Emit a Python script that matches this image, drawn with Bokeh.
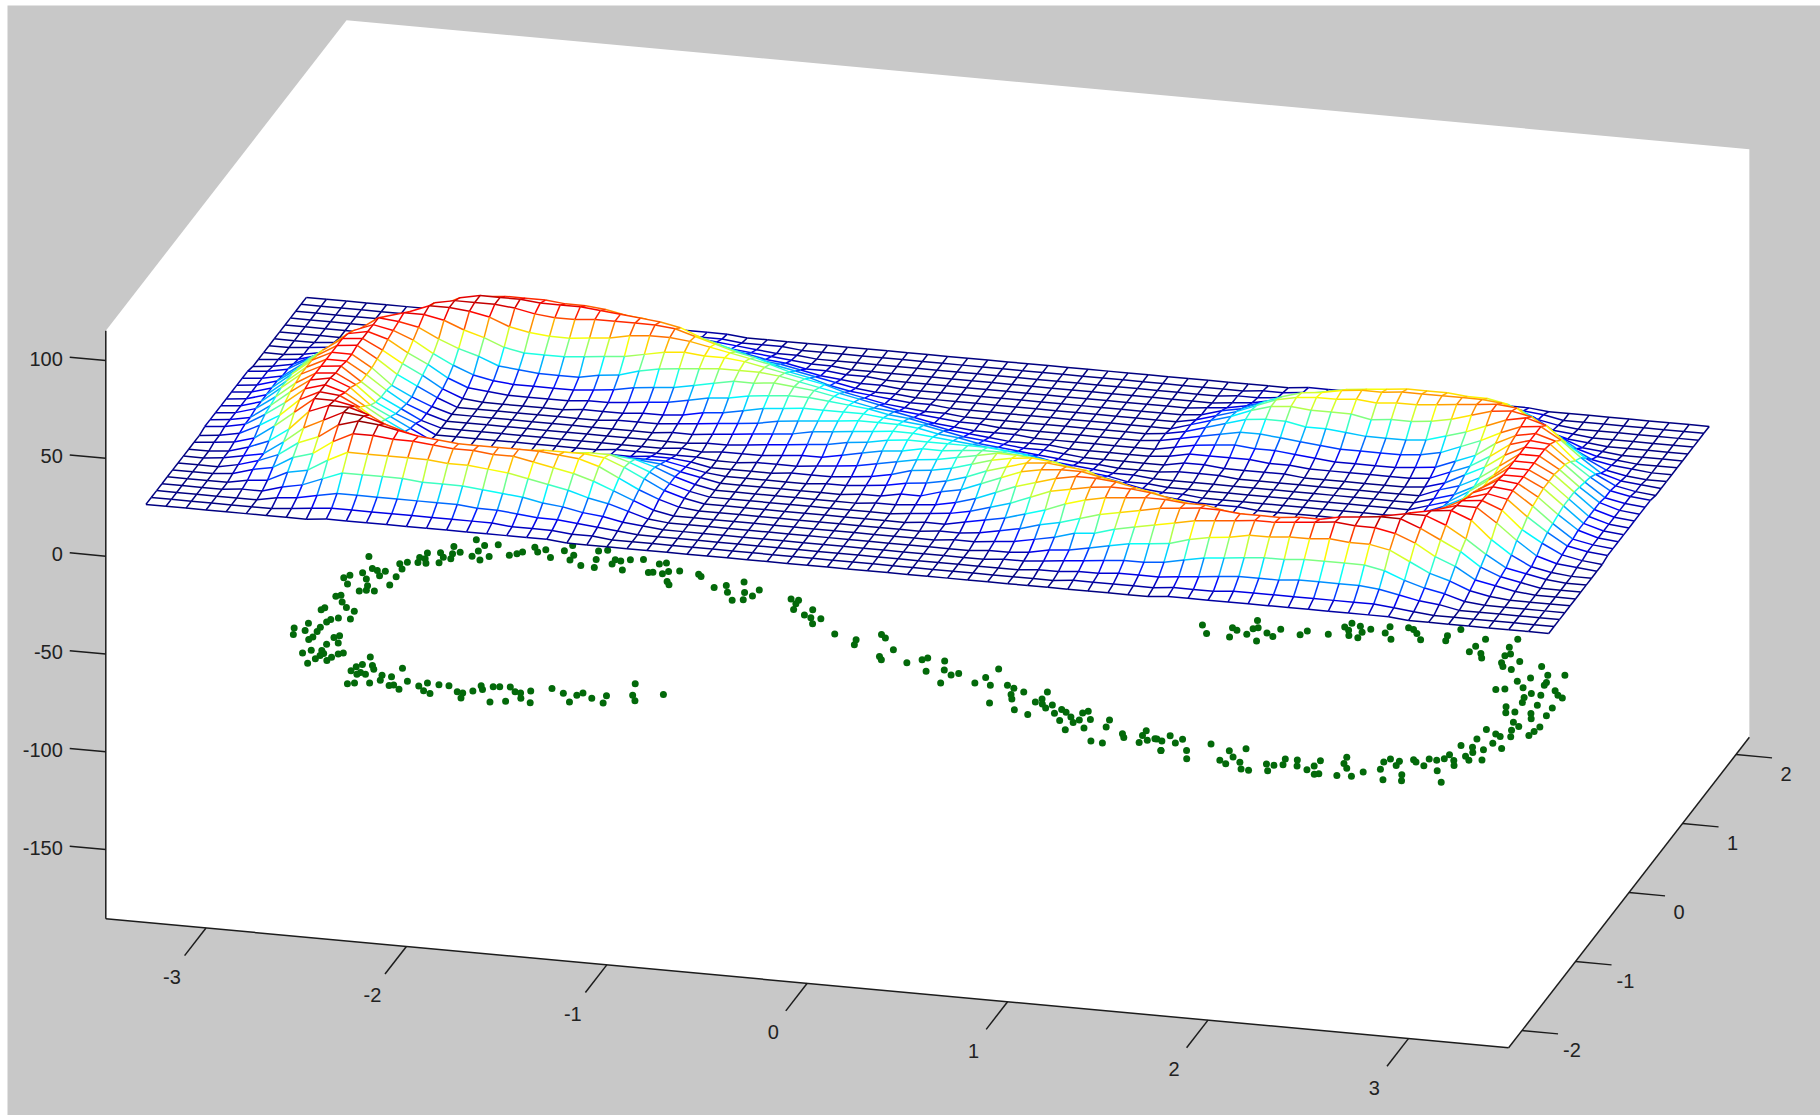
import numpy as np
from bokeh.plotting import figure
from bokeh.models import Range1d
from bokeh.core.properties import value
from bokeh.embed import file_html
from bokeh.resources import INLINE

X_LIMITS = (-3.5, 3.5)
Y_LIMITS = (-2.25, 2.25)
Z_LIMITS = (-185.4, 115.3)
X_TICKS = [-3, -2, -1, 0, 1, 2, 3]
Y_TICKS = [-2, -1, 0, 1, 2]
Z_TICKS = [-150, -100, -50, 0, 50, 100]

MESH_X = [round(-3.5 + 0.1 * i, 1) for i in range(71)]
MESH_Y = [round(-1.5 + 0.1 * j, 1) for j in range(31)]
CLOUD_Z = -100
COLOR_TOP = 30

# One entry per x of the mesh: height at y=0, heights going to y=-0.1,-0.2,... and
# heights going to y=+0.1,+0.2,... ; rows not listed are read as zero height.
Z_COLUMNS = [
 (1,[1,1,1,1],[1,1,1,1]),
 (2,[2,2,2,2,1,1],[2,2,2,2,1,1]),
 (5,[5,5,4,4,3,2,1,1],[5,5,4,4,3,2,1,1]),
 (13,[13,12,11,10,8,5,4,3,2,1],[13,12,11,10,8,5,3,2,1]),
 (21,[21,20,19,17,14,12,8,5,5,4,2,1],[21,20,19,17,14,12,8,4,2,1]),
 (26,[26,26,26,25,23,20,15,12,9,6,3,1],[26,26,26,25,23,20,15,9,5,2,1]),
 (26,[27,27,28,28,28,28,25,20,16,12,8,4,2],[26,27,27,27,27,27,24,18,12,6,2,1]),
 (20,[20,22,24,25,27,28,29,25,20,15,10,6,3,1],[20,21,22,24,25,26,27,24,17,10,5,2,1]),
 (13,[13,14,16,19,22,26,29,30,27,22,16,10,5,2],[12,14,16,18,21,24,27,28,26,21,15,8,4,2,1]),
 (7,[8,9,11,13,15,20,26,29,30,27,21,14,7,3,1],[7,9,11,13,15,19,25,28,28,26,20,14,7,3,1]),
 (3,[3,5,6,8,10,15,21,26,29,27,21,14,7,3,1],[3,4,5,7,10,15,21,27,28,28,24,16,8,3,1]),
 (0,[0,0,1,3,6,11,17,23,27,26,21,14,7,3,1],[0,0,1,3,6,12,18,25,28,28,25,17,8,3,1]),
 (0,[0,0,0,1,3,7,13,20,25,26,21,14,7,3,1],[0,0,0,2,4,8,14,21,27,28,25,18,8,3,1]),
 (0,[0,0,0,1,2,6,11,18,24,25,21,13,7,3,1],[0,0,0,1,3,7,12,19,25,27,25,18,8,3,1]),
 (0,[0,0,0,1,2,5,11,17,23,24,20,13,7,3,1],[0,0,0,1,3,6,12,18,24,27,24,17,8,3,1]),
 (0,[0,0,0,1,2,5,11,17,23,24,20,13,7,3,1],[0,0,0,1,3,6,12,18,24,27,24,17,8,3,1]),
 (0,[0,0,0,1,3,6,11,18,23,23,19,12,6,3,1],[0,0,0,1,3,6,13,19,25,26,23,15,8,3,1]),
 (0,[0,0,0,1,4,7,13,19,23,23,18,11,6,3,1],[0,0,1,2,4,8,14,20,25,25,21,14,8,3,1]),
 (0,[0,0,1,2,4,9,14,20,23,21,16,10,5,2,1],[0,0,1,2,5,9,15,22,25,24,20,13,7,3,1]),
 (0,[0,0,1,3,6,10,16,20,22,19,14,8,4,2,1],[0,1,1,3,7,12,17,23,25,23,17,11,6,3,1]),
 (0,[0,1,2,4,7,12,17,20,21,17,12,7,4,2,1],[0,1,2,4,8,14,19,23,24,21,15,10,5,2,1]),
 (0,[0,1,2,5,8,13,17,19,18,14,9,5,3,1],[0,1,2,5,9,15,20,22,21,17,12,7,4,2,1]),
 (0,[0,1,3,5,8,12,14,15,13,10,7,4,2,1],[1,2,3,7,11,16,19,20,18,14,9,5,3,1]),
 (0,[1,1,3,5,7,9,10,10,8,6,4,2,1],[1,3,5,9,13,17,19,18,15,11,7,4,2,1]),
 (1,[0,1,2,3,4,5,5,5,4,2,1,1],[2,4,6,10,15,17,18,16,13,8,5,3,1,1]),
 (1,[1,0,0,1,2,2,2,2,1],[3,5,8,12,15,17,16,14,10,7,4,2,1]),
 (2,[1],[4,6,10,13,16,16,14,11,8,5,2,1]),
 (3,[1,1],[5,8,11,14,15,14,12,9,6,3,2,1]),
 (4,[2,1],[6,9,12,14,14,12,10,6,4,2,1]),
 (5,[3,1,1],[8,10,12,13,12,10,7,4,2,1,1]),
 (6,[3,2,1],[9,11,12,12,10,8,5,3,1,1]),
 (8,[5,3,1,1],[10,12,12,11,8,6,3,2,1]),
 (9,[7,4,2,1],[11,12,11,9,7,4,2,1]),
 (11,[9,6,3,2,1],[12,12,10,8,5,3,1,1]),
 (12,[10,8,5,3,1,1],[12,11,9,6,3,2,1]),
 (12,[12,10,8,5,3,1],[11,9,7,4,2,1]),
 (12,[12,11,9,6,3,2,1],[10,8,5,3,1,1]),
 (12,[13,13,11,8,6,3,2,1],[9,6,4,2,1]),
 (12,[14,15,14,11,8,5,3,1,1],[8,5,3,1,1]),
 (11,[14,17,17,15,12,8,5,3,1,1],[7,4,2,1]),
 (10,[13,17,19,18,16,12,8,5,2,1],[6,3,2,1]),
 (8,[12,16,20,21,20,16,11,7,4,2,1],[4,2,1]),
 (6,[10,15,19,22,22,19,15,10,6,3,1,1],[3,1]),
 (4,[8,12,17,21,23,22,19,13,9,5,2,1],[2,1]),
 (3,[6,10,14,20,23,24,21,17,11,7,4,2,1],[1]),
 (1,[4,6,11,16,21,24,23,20,14,10,5,3,1],[1,0,0,0,0,1,1]),
 (1,[2,5,9,14,19,23,24,22,17,11,7,4,2,1],[0,0,0,1,2,3,3,3,2,1,1]),
 (0,[1,3,6,11,16,21,24,23,19,14,9,5,2,1],[0,1,2,3,4,5,6,6,5,4,2,1,1]),
 (0,[1,2,4,8,13,19,23,24,21,16,11,6,3,1],[0,1,2,3,5,7,9,9,8,6,4,2,1,1]),
 (0,[0,1,3,6,10,16,21,24,23,18,12,6,3,1],[0,1,1,3,6,9,12,13,12,10,7,4,2,1]),
 (0,[0,1,2,4,8,14,19,23,24,20,13,7,3,1],[0,0,1,3,5,9,13,16,16,14,10,6,4,2,1]),
 (0,[0,1,1,3,6,12,18,23,25,22,16,9,4,2,1],[0,0,1,2,5,8,13,17,18,17,13,8,5,2,1]),
 (0,[0,0,1,2,5,10,15,21,25,23,18,11,5,2,1],[0,0,1,2,4,7,11,16,19,18,15,10,6,3,1]),
 (0,[0,0,1,2,4,8,14,20,24,24,19,12,6,2,1],[0,0,0,1,3,6,11,16,19,20,17,12,7,3,1]),
 (0,[0,0,0,1,3,7,12,19,24,25,21,13,7,3,1],[0,0,0,1,2,5,10,16,20,21,18,13,8,4,1]),
 (0,[0,0,0,1,2,6,11,18,24,25,21,14,7,3,1],[0,0,0,1,2,5,9,14,19,21,19,14,8,4,1]),
 (0,[0,0,0,1,2,6,12,18,25,26,22,14,7,3,1],[0,0,0,1,2,5,9,15,20,22,20,15,8,4,1]),
 (0,[0,0,0,1,3,6,12,19,25,27,22,15,8,3,1],[0,0,0,1,2,5,9,15,20,22,20,15,8,4,1]),
 (0,[0,0,0,1,3,8,14,21,27,28,23,15,8,3,1],[0,0,0,1,3,6,10,16,21,22,20,15,8,4,1]),
 (0,[0,0,1,3,6,11,17,24,28,27,22,15,8,3,1],[0,0,1,2,4,8,13,18,22,22,19,14,8,4,1]),
 (3,[3,5,6,8,10,15,21,26,29,27,22,15,8,3,1],[3,4,4,6,8,12,16,21,23,22,19,13,8,4,1]),
 (6,[7,8,10,12,15,20,25,28,29,25,20,13,7,3,1],[6,7,9,10,12,16,20,24,24,21,17,12,7,3,1]),
 (12,[12,13,15,18,21,24,27,28,25,21,15,9,5,2,1],[11,12,14,16,19,21,24,25,23,18,12,8,3,2]),
 (19,[19,21,23,24,26,27,28,24,20,15,10,6,3,1],[18,19,21,23,24,25,26,23,16,10,5,2,1]),
 (26,[26,27,27,27,27,27,24,18,15,11,7,4,2],[26,26,26,26,26,26,23,17,11,6,2,1]),
 (26,[26,26,26,25,23,20,15,11,8,5,3,1],[26,26,26,25,23,20,15,9,5,2,1]),
 (21,[21,20,19,17,14,12,8,5,4,3,1],[21,20,19,17,14,12,8,4,2,1]),
 (13,[13,12,11,10,8,5,3,3,2,1],[13,12,11,10,8,5,3,2,1]),
 (5,[5,5,4,4,3,2,1,1],[5,5,4,4,3,2,1,1]),
 (2,[2,2,2,2,1,1],[2,2,2,2,1,1]),
 (1,[1,1,1,1],[1,1,1,1]),
]

CLOUD_X = [-2.98,-2.54,-2.62,-2.42,-2.48,-2.49,-2.50,-2.45,-2.42,-2.57,-2.60,-2.59,-2.66,-2.63,-2.63,-2.72,-2.74,-2.71,-2.73,-2.69,
 -2.78,-2.81,-2.78,-2.78,-2.78,-2.85,-2.86,-2.89,-2.92,-2.95,-2.91,-3.00,-3.02,-2.98,-2.90,-2.88,-2.87,-2.83,-2.97,-2.99,
 -2.94,-2.90,-2.85,-2.84,-3.00,-3.01,-2.90,-2.93,-2.94,-2.95,-3.02,-3.01,-3.07,-3.05,-2.95,-2.95,-2.96,-2.85,-2.83,-2.81,
 -2.86,-2.91,-2.94,-2.86,-2.84,-2.85,-2.86,-2.88,-2.80,-2.79,-2.77,-2.75,-2.61,-2.57,-2.55,-2.62,-2.64,-2.65,-2.60,-2.61,
 -2.57,-2.62,-2.59,-2.52,-2.49,-2.48,-2.44,-2.42,-2.35,-2.42,-2.40,-2.36,-2.28,-2.25,-2.24,-2.20,-2.19,-2.14,-2.08,-2.05,
 -2.04,-2.01,-1.99,-1.97,-1.93,-1.90,-1.85,-1.81,-1.78,-1.74,-1.76,-1.89,-1.82,-1.70,-1.65,-1.58,-1.52,-1.51,-1.49,-1.43,
 -1.37,-1.36,-1.28,-1.25,-1.22,-1.11,
 -2.24,-2.21,-2.28,-2.30,-2.33,-2.18,-2.13,-2.09,-2.07,-2.03,-2.03,-1.96,-1.93,-1.89,-1.91,-1.89,-1.82,-1.79,-1.75,-1.82,
 -1.75,-1.69,-1.62,-1.60,-1.60,-1.57,-1.53,-1.55,-1.48,-1.50,-1.48,-1.38,-1.36,-1.26,-1.21,-1.18,-1.14,-1.10,-1.04,-1.05,
 -1.08,-1.13,
 -0.86,-0.82,-0.82,-0.81,-0.72,-0.74,-0.70,-0.65,-0.67,-0.53,-0.41,-0.40,-0.31,-0.28,-0.20,-0.24,-0.22,-0.09,-0.03,-0.01,
 0.08,0.03,0.11,0.16,0.19,0.14,0.30,0.33,0.36,0.38,0.46,0.50,0.51,0.53,0.44,0.58,0.56,0.66,0.67,0.67,
 0.65,0.69,0.72,0.74,0.78,0.80,0.83,0.83,0.87,0.90,0.92,0.91,0.93,0.97,0.89,0.97,1.06,1.07,1.05,1.11,
 1.17,1.19,1.27,1.27,1.31,1.28,1.34,1.41,
 1.15,1.20,1.30,1.33,1.32,1.39,1.40,1.39,1.42,1.46,1.48,1.52,1.53,1.64,1.66,1.77,1.82,1.84,1.85,1.87,
 1.89,1.92,1.92,1.95,2.03,2.03,2.08,2.12,2.15,2.18,2.22,2.33,2.34,2.37,2.49,2.50,2.55,2.57,2.52,2.66,
 2.67,2.67,2.69,2.68,2.70,2.75,2.76,2.88,2.82,2.87,2.94,2.96,3.02,2.75,2.79,2.87,2.93,2.96,2.91,2.98,
 3.03,3.06,3.09,2.92,3.00,3.08,2.86,2.92,2.88,3.00,3.02,3.08,2.95,2.99,2.97,2.99,2.85,3.09,3.08,3.07,
 2.91,2.94,2.84,2.93,2.99,2.79,2.85,2.87,2.91,2.85,2.88,2.94,2.77,2.81,2.83,2.76,2.73,2.69,2.69,2.77,
 2.83,2.62,2.64,2.56,2.56,2.51,2.49,2.50,2.55,2.62,2.64,2.43,2.39,2.32,2.30,2.31,2.34,2.19,2.18,2.23,
 2.16,2.21,2.08,2.10,2.02,2.03,1.95,1.99,1.98,1.89,1.82,1.85,1.80,1.73,1.77,1.72,1.76,1.62,1.53,1.56,
 1.47,1.45,1.40,1.38,1.35,1.41]

CLOUD_Y = [0.72,1.08,0.96,1.04,1.01,0.93,0.85,0.81,0.87,0.89,0.86,0.79,0.86,0.80,0.72,0.84,0.77,0.76,0.70,0.70,
 0.69,0.66,0.59,0.48,0.36,0.54,0.47,0.54,0.56,0.49,0.41,0.44,0.40,0.32,0.24,0.32,0.26,0.26,0.16,0.14,
 0.07,0.00,-0.04,-0.15,-0.03,-0.06,-0.15,-0.18,-0.22,-0.30,-0.26,-0.36,-0.34,-0.43,-0.36,-0.44,-0.48,-0.42,-0.39,-0.49,
 -0.52,-0.62,-0.67,-0.61,-0.65,-0.68,-0.73,-0.80,-0.74,-0.69,-0.64,-0.62,-0.64,-0.75,-0.80,-0.75,-0.79,-0.85,-0.86,-0.89,
 -0.88,-1.03,-1.01,-0.99,-0.87,-0.94,-0.88,-0.75,-0.92,-1.00,-0.99,-1.04,-0.97,-0.92,-1.03,-1.06,-0.93,-0.93,-1.00,-1.01,
 -1.08,-0.97,-0.89,-0.94,-0.89,-0.88,-0.87,-0.93,-0.94,-0.90,-1.01,-1.10,-1.07,-1.06,-0.84,-0.89,-1.00,-0.90,-0.86,-0.92,
 -0.87,-0.97,-0.67,-0.83,-0.90,-0.78,
 1.05,0.99,0.97,0.94,0.91,1.03,0.93,1.04,1.12,0.99,0.92,0.86,1.08,1.10,0.96,0.85,0.98,0.97,1.00,0.92,
 0.85,1.02,0.85,0.86,0.98,1.00,0.89,0.85,0.91,0.75,0.71,0.89,0.86,0.73,0.77,0.68,0.84,0.70,0.75,0.66,
 0.60,0.58,
 0.67,0.66,0.61,0.53,0.55,0.47,0.44,0.44,0.36,0.25,0.20,0.13,0.30,0.26,0.11,0.00,-0.04,-0.05,0.01,0.04,
 0.02,-0.14,-0.10,-0.16,-0.13,-0.28,-0.24,-0.15,-0.02,-0.25,-0.23,-0.26,-0.35,-0.41,-0.49,-0.55,-0.30,-0.60,-0.27,-0.37,
 -0.42,-0.44,-0.49,-0.44,-0.55,-0.49,-0.52,-0.64,-0.58,-0.65,-0.61,-0.51,-0.48,-0.59,-0.76,-0.71,-0.57,-0.67,-0.88,-0.89,
 -0.74,-0.79,-0.74,-0.67,-0.80,-0.84,-0.77,-0.92,
 0.83,0.72,0.83,0.80,0.70,0.76,0.84,0.96,0.86,0.68,0.80,0.76,0.87,0.82,0.88,0.86,0.98,1.04,0.94,0.87,
 1.01,0.93,0.85,0.98,1.04,0.95,0.87,1.05,1.03,0.98,0.90,0.99,0.92,1.09,0.80,0.88,0.79,0.73,0.99,0.91,
 1.03,0.79,0.82,0.69,0.64,0.61,0.73,0.69,0.46,0.52,0.58,0.48,0.60,0.32,0.34,0.38,0.31,0.44,0.25,0.30,
 0.38,0.32,0.29,0.18,0.16,0.14,0.10,0.04,0.02,0.04,-0.03,0.03,-0.10,-0.15,-0.21,-0.30,-0.23,-0.13,-0.20,-0.26,
 -0.28,-0.31,-0.37,-0.41,-0.47,-0.48,-0.49,-0.56,-0.51,-0.62,-0.67,-0.65,-0.62,-0.69,-0.76,-0.68,-0.71,-0.70,-0.80,-0.85,
 -1.00,-0.73,-0.76,-0.77,-0.83,-0.75,-0.80,-0.90,-1.04,-0.95,-1.03,-0.96,-1.03,-1.04,-0.78,-0.87,-0.93,-0.86,-0.94,-1.04,
 -1.00,-1.05,-0.88,-0.96,-0.88,-0.96,-0.97,-0.98,-1.06,-1.08,-0.98,-1.07,-0.79,-0.84,-0.92,-0.98,-1.02,-0.77,-0.89,-1.00,
 -0.74,-0.80,-0.71,-0.79,-0.77,-0.92]


def sx(x, y):
    return 105.3 + 200.4 * (np.asarray(x, float) + 3.5) + 53.5 * (np.asarray(y, float) + 2.25)


def sy(x, y, z):
    return (918.3 + 18.43 * (np.asarray(x, float) + 3.5) - 69.0 * (np.asarray(y, float) + 2.25)
            - 1.956 * (np.asarray(z, float) + 185.4))


def jet(z):
    t = min(max(z / COLOR_TOP, 0.0), 1.0)
    channel = lambda c: int(round(255 * min(max(1.5 - abs(4 * t - c), 0.0), 1.0)))
    return "#%02x%02x%02x" % (channel(3), channel(2), channel(1))


height = np.zeros((len(MESH_X), len(MESH_Y)))
for i, (center, lower, upper) in enumerate(Z_COLUMNS):
    height[i, 15] = center
    for k, v in enumerate(lower):
        height[i, 14 - k] = v
    for k, v in enumerate(upper):
        height[i, 16 + k] = v

p = figure(width=1820, height=1115, output_backend="svg", toolbar_location=None,
           x_range=Range1d(7, 1820), y_range=Range1d(1115, 5),
           background_fill_color="#c8c8c8", border_fill_color="white",
           min_border_left=7, min_border_top=5, min_border_right=0, min_border_bottom=0,
           outline_line_color=None)
p.axis.visible = False
p.grid.visible = False

x0, x1 = X_LIMITS
y0, y1 = Y_LIMITS
z0, z1 = Z_LIMITS
box = [(x0, y0, z0), (x1, y0, z0), (x1, y1, z0), (x1, y1, z1), (x0, y1, z1), (x0, y0, z1)]
p.patch([float(sx(b[0], b[1])) for b in box], [float(sy(*b)) for b in box],
        fill_color="white", line_color=None)

AXIS = "#1c1c1c"
edges = [((x0, y0, z0), (x0, y0, z1)), ((x0, y0, z0), (x1, y0, z0)), ((x1, y0, z0), (x1, y1, z0))]
ticks = []
ticks += [((t, y0, z0), (t, y0 - 0.4, z0)) for t in X_TICKS]
ticks += [((x1, t, z0), (x1 + 0.18, t, z0)) for t in Y_TICKS]
ticks += [((x0, y0, t), (x0 - 0.18, y0, t)) for t in Z_TICKS]
lines = edges + ticks
p.multi_line([[float(sx(a[0], a[1])), float(sx(b[0], b[1]))] for a, b in lines],
             [[float(sy(*a)), float(sy(*b))] for a, b in lines],
             line_color=AXIS, line_width=1.5)

font = value("Liberation Sans")
p.text([float(sx(t, y0)) - 34 for t in X_TICKS], [float(sy(t, y0, z0)) + 49 for t in X_TICKS],
       text=[str(t) for t in X_TICKS], text_font=font, text_font_size="20px", text_color="#222222",
       text_align="center", text_baseline="middle")
p.text([float(sx(x1, t)) + 50 for t in Y_TICKS], [float(sy(x1, t, z0)) + 19 for t in Y_TICKS],
       text=[str(t) for t in Y_TICKS], text_font=font, text_font_size="20px", text_color="#222222",
       text_align="center", text_baseline="middle")
p.text([float(sx(x0, y0)) - 43 for t in Z_TICKS], [float(sy(x0, y0, t)) - 2 for t in Z_TICKS],
       text=[str(t) for t in Z_TICKS], text_font=font, text_font_size="20px", text_color="#222222",
       text_align="right", text_baseline="middle")

p.scatter(sx(CLOUD_X, CLOUD_Y), sy(CLOUD_X, CLOUD_Y, [CLOUD_Z] * len(CLOUD_X)),
          marker="circle", size=7, fill_color="#03690a", line_color=None)

gx = np.array(MESH_X)
gy = np.array(MESH_Y)
nx, ny = len(gx), len(gy)


def node(i, j):
    return float(sx(gx[i], gy[j])), float(sy(gx[i], gy[j], height[i, j]))


def add_lines(segs):
    xs, ys, cols = [], [], []
    for a, b in segs:
        pa, pb = node(*a), node(*b)
        xs.append([pa[0], pb[0]])
        ys.append([pa[1], pb[1]])
        cols.append(jet((height[a] + height[b]) / 2))
    p.multi_line(xs, ys, line_color=cols, line_width=1.5)


for j in range(ny - 2, -1, -1):
    qx, qy = [], []
    for i in range(nx - 1):
        corners = [node(i, j), node(i + 1, j), node(i + 1, j + 1), node(i, j + 1)]
        qx.append([c[0] for c in corners])
        qy.append([c[1] for c in corners])
    p.patches(qx, qy, fill_color="white", line_color=None)
    segs = [((i, j + 1), (i + 1, j + 1)) for i in range(nx - 1)]
    segs += [((i, j), (i, j + 1)) for i in range(nx)]
    add_lines(segs)
add_lines([((i, 0), (i + 1, 0)) for i in range(nx - 1)])

open("out.html", "w").write(file_html(p, INLINE))
